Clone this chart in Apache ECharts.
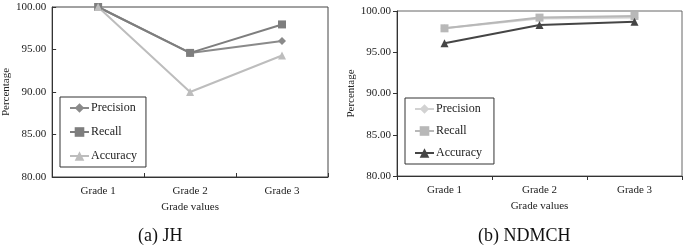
<!DOCTYPE html>
<html>
<head>
<meta charset="utf-8">
<script src="https://cdn.jsdelivr.net/npm/echarts@6/dist/echarts.min.js"></script>
<style>
    html, body { margin: 0; padding: 0; background: #fff; }
    #main { width: 685px; height: 245px; }
</style>
</head>
<body>
<div id="main"></div>
<script>
// 数据
var grades = ['Grade 1', 'Grade 2', 'Grade 3'];
var seriesNames = ['Precision', 'Recall', 'Accuracy'];
var yTicks = [80, 85, 90, 95, 100];

// (a) JH
var jhPrecision = [100, 94.6, 96.0];
var jhRecall = [100, 94.6, 97.95];
var jhAccuracy = [100, 90.0, 94.3];

// (b) NDMCH
var ndPrecision = [97.9, 99.1, 99.2];
var ndRecall = [97.9, 99.2, 99.4];
var ndAccuracy = [96.1, 98.3, 98.7];

var serif = 'Liberation Serif';

initChart();

function yAxisOf(idx, tickInside) {
    return {
        type: 'value',
        gridIndex: idx,
        min: yTicks[0],
        max: yTicks[yTicks.length - 1],
        interval: 5,
        name: 'Percentage',
        nameLocation: 'middle',
        nameGap: 40,
        nameTextStyle: { fontFamily: serif, fontSize: 11, color: '#222' },
        axisLine: { show: true, lineStyle: { color: '#333', width: 1 } },
        axisTick: { show: true, inside: tickInside, length: 4, lineStyle: { color: '#333' } },
        axisLabel: {
            fontFamily: serif, fontSize: 11, color: '#222', margin: 6,
            formatter: function(v) { return v.toFixed(2); }
        },
        splitLine: { show: false }
    };
}

function xAxisOf(idx, tickInside) {
    return {
        type: 'category',
        gridIndex: idx,
        data: grades,
        boundaryGap: true,
        name: 'Grade values',
        nameLocation: 'middle',
        nameGap: 24,
        nameTextStyle: { fontFamily: serif, fontSize: 11, color: '#222' },
        axisLine: { show: true, lineStyle: { color: '#333', width: 1 } },
        axisTick: { show: true, inside: tickInside, length: 4, lineStyle: { color: '#333' } },
        axisLabel: { fontFamily: serif, fontSize: 11, color: '#222', margin: 9 }
    };
}

function lineOf(name, data, idx, color, symbol) {
    return {
        name: name,
        type: 'line',
        xAxisIndex: idx,
        yAxisIndex: idx,
        data: data,
        symbol: symbol,
        symbolSize: 8,
        lineStyle: { color: color, width: 2 },
        itemStyle: { color: color }
    };
}

// 图例 (右图名字后加空格以区分两组)
function legendOf(names, left, top, gap) {
    return {
        data: names,
        orient: 'vertical',
        left: left,
        top: top,
        itemWidth: 19,
        itemHeight: 12,
        itemGap: gap,
        padding: [5, 9, 5, 9],
        borderColor: '#333',
        borderWidth: 1,
        backgroundColor: '#fff',
        textStyle: { fontFamily: serif, fontSize: 12, color: '#222', padding: [0, 0, 0, -3] }
    };
}

function initChart() {
    var myChart = echarts.init(document.getElementById('main'));
    var rightNames = seriesNames.map(function(n) { return n + ' '; });
    var captionStyle = { fontFamily: serif, fontSize: 18, fontWeight: 'normal', color: '#111' };
    var option = {
        animation: false,
        title: [
            { text: '(a) JH', left: 133, top: 222, textStyle: captionStyle },
            { text: '(b) NDMCH', left: 473, top: 222, textStyle: captionStyle }
        ],
        grid: [
            { left: 50, top: 7, width: 278, height: 170, show: true, borderColor: '#444', borderWidth: 1 },
            { left: 397, top: 11, width: 285, height: 165, show: true, borderColor: '#666', borderWidth: 1 }
        ],
        legend: [
            legendOf(seriesNames, 60, 97, 12),
            legendOf(rightNames, 405, 98, 10)
        ],
        xAxis: [xAxisOf(0, true), xAxisOf(1, false)],
        yAxis: [yAxisOf(0, true), yAxisOf(1, false)],
        series: [
            lineOf(seriesNames[0], jhPrecision, 0, '#8a8a8a', 'diamond'),
            lineOf(seriesNames[1], jhRecall, 0, '#7e7e7e', 'rect'),
            lineOf(seriesNames[2], jhAccuracy, 0, '#bdbdbd', 'triangle'),
            lineOf(rightNames[0], ndPrecision, 1, '#d2d2d2', 'diamond'),
            lineOf(rightNames[1], ndRecall, 1, '#b8b8b8', 'rect'),
            lineOf(rightNames[2], ndAccuracy, 1, '#454545', 'triangle')
        ]
    };
    myChart.setOption(option);
}
</script>
</body>
</html>
